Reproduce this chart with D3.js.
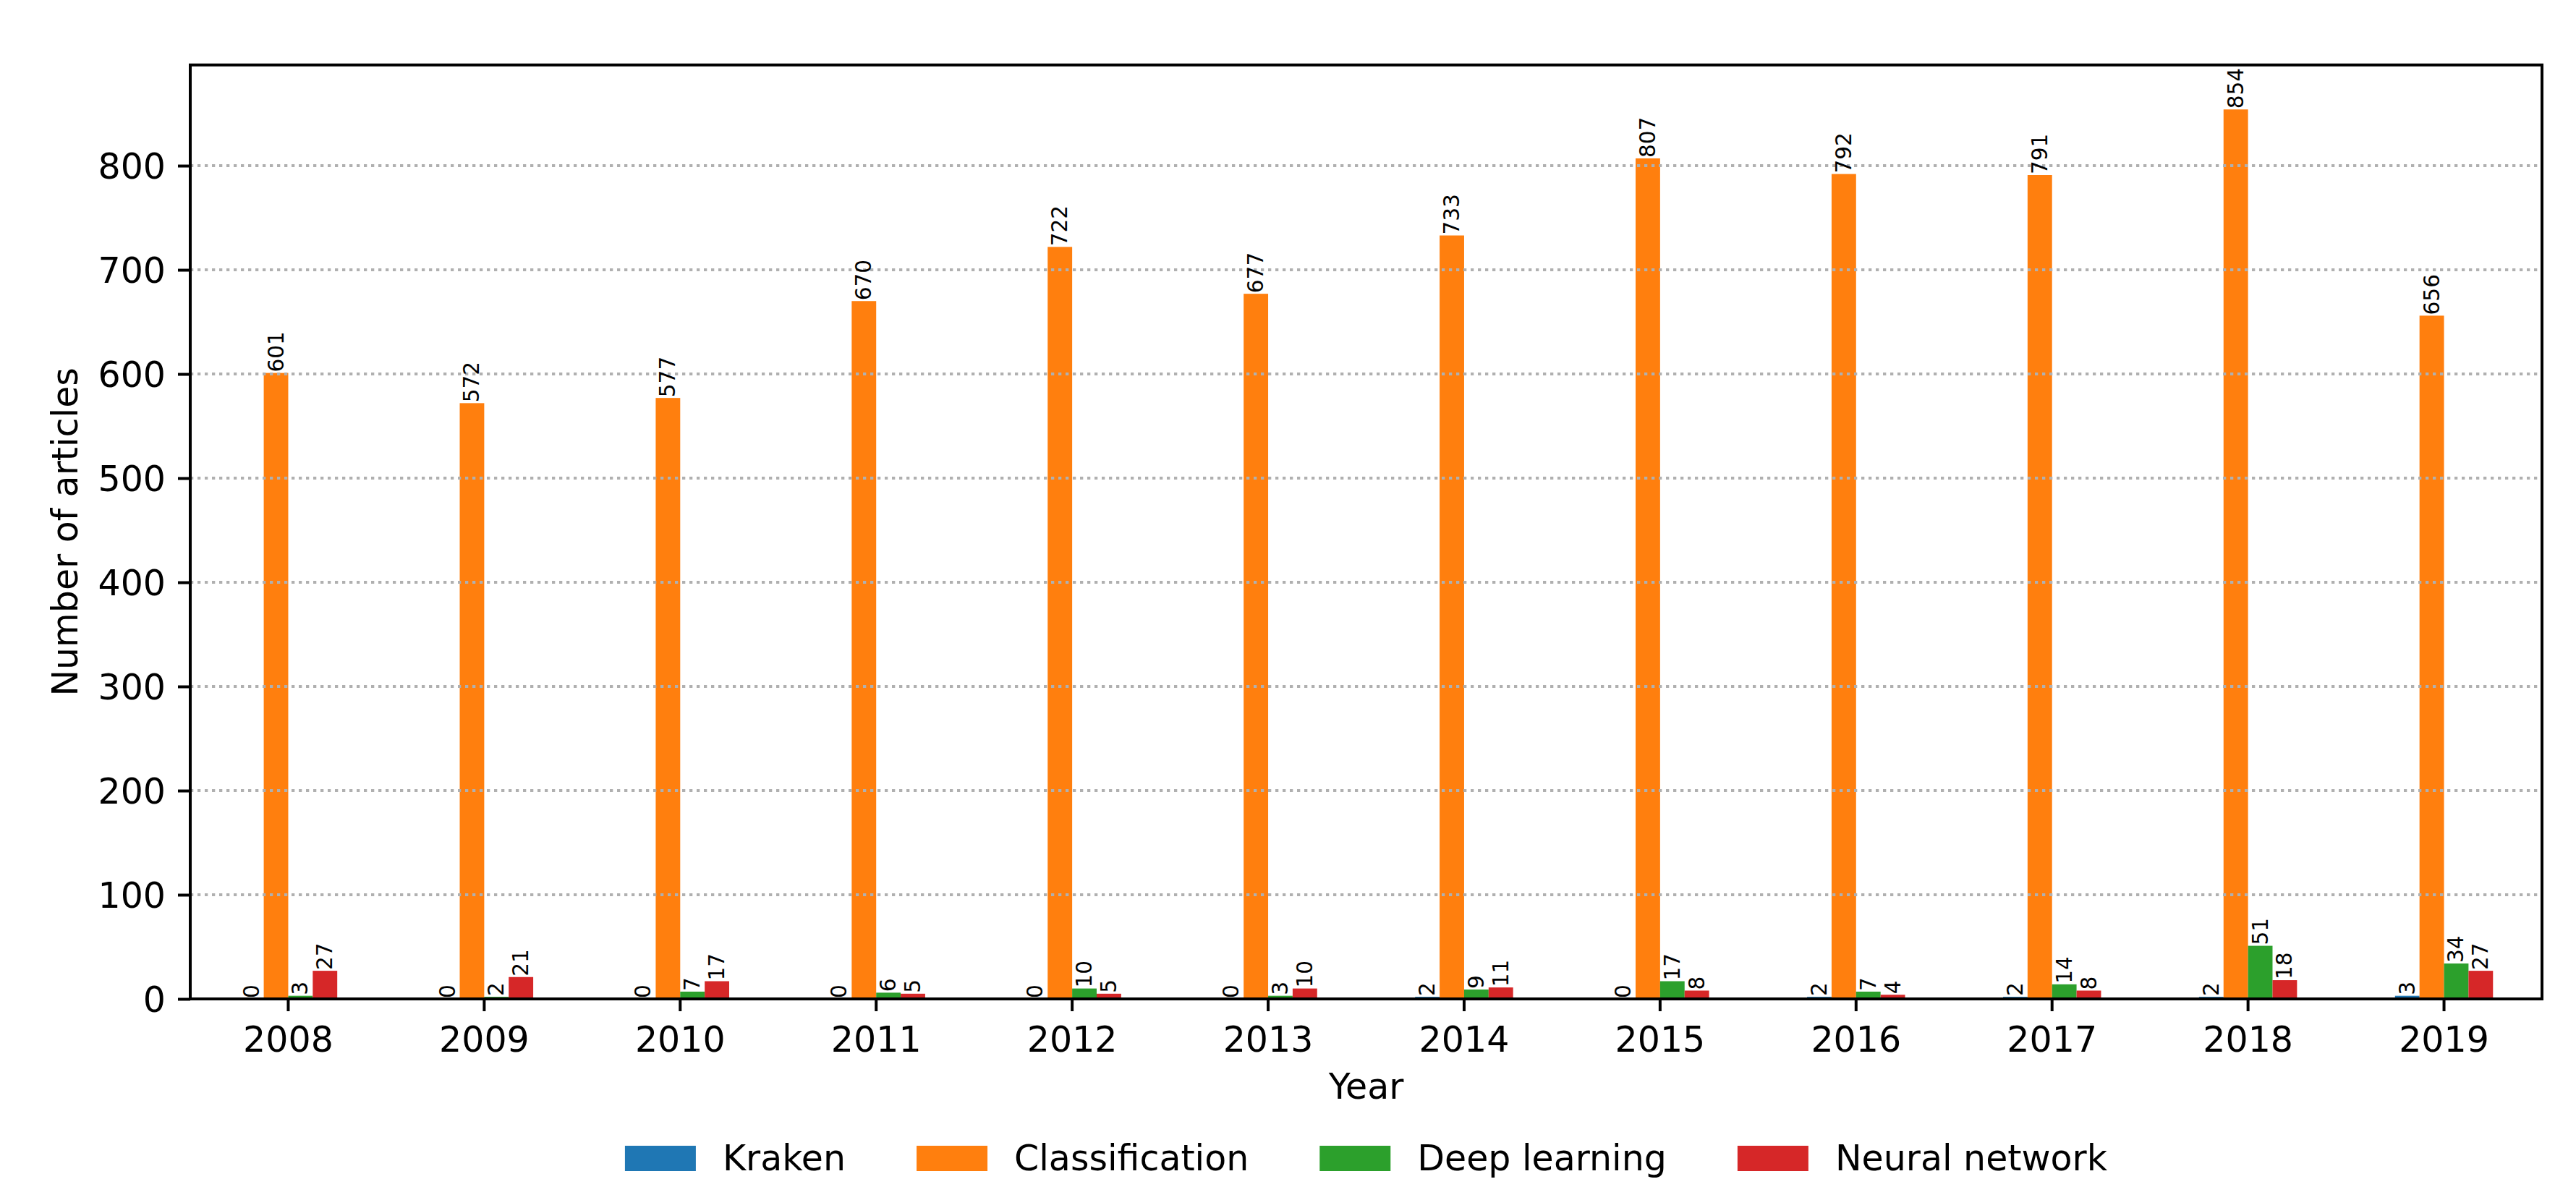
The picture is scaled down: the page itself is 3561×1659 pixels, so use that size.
<!DOCTYPE html>
<html>
<head>
<meta charset="utf-8">
<script src="https://cdn.jsdelivr.net/npm/d3@7"></script>
<style>
  html, body { margin: 0; padding: 0; background: #fff; }
  svg { display: block; }
  text { font-family: "DejaVu Sans", sans-serif; fill: #000; }
</style>
</head>
<body>
<svg id="chart" width="3561" height="1659"></svg>
<script>
// ---- data ----
const years = ["2008","2009","2010","2011","2012","2013","2014","2015","2016","2017","2018","2019"];
const seriesNames = ["Kraken","Classification","Deep learning","Neural network"];
const kraken         = [0, 0, 0, 0, 0, 0, 2, 0, 2, 2, 2, 3];
const classification = [601, 572, 577, 670, 722, 677, 733, 807, 792, 791, 854, 656];
const deepLearning   = [3, 2, 7, 6, 10, 3, 9, 17, 7, 14, 51, 34];
const neuralNetwork  = [27, 21, 17, 5, 5, 10, 11, 8, 4, 8, 18, 27];
const yTicks = [0, 100, 200, 300, 400, 500, 600, 700, 800];
const colors = ["#1f77b4", "#ff7f0e", "#2ca02c", "#d62728"];

const seriesValues = [kraken, classification, deepLearning, neuralNetwork];

// ---- layout ----
const W = 3561, H = 1659;
const L = 263, R = 3514, T = 89.8, B = 1381;
const svg = d3.select("#chart");
const FS = 49;

const yMax = d3.max(classification) * 1.05;
const x = d3.scaleBand().domain(years).range([L, R]).padding(0);
const bw = x.bandwidth();
const xs = d3.scaleBand().domain(seriesNames).range([0.25 * bw, 0.75 * bw]).padding(0);
const y = d3.scaleLinear().domain([0, yMax]).range([B, T]);

const lw = 4;

// bars
const barData = [];
seriesNames.forEach((s, i) => {
  years.forEach((yr, j) => {
    barData.push({ s, i, yr, v: seriesValues[i][j] });
  });
});

svg.append("g").selectAll("rect").data(barData).join("rect")
  .attr("x", d => x(d.yr) + xs(d.s))
  .attr("width", xs.bandwidth())
  .attr("y", d => y(d.v))
  .attr("height", d => y(0) - y(d.v))
  .attr("fill", d => colors[d.i]);

// grid (above bars, as matplotlib default)
svg.append("g").selectAll("line").data(yTicks.filter(t => t > 0)).join("line")
  .attr("x1", L).attr("x2", R)
  .attr("y1", d => y(d)).attr("y2", d => y(d))
  .attr("stroke", "#b0b0b0").attr("stroke-width", lw)
  .attr("stroke-dasharray", "4.3,5.7");

// value labels
svg.append("g").selectAll("text").data(barData).join("text")
  .attr("transform", d => `translate(${x(d.yr) + xs(d.s) + xs.bandwidth() / 2 + 10},${y(d.v) - 1}) rotate(-90)`)
  .attr("text-anchor", "start")
  .attr("font-size", 29.5)
  .text(d => d.v);

// y axis
const yAxis = d3.axisLeft(y).tickValues(yTicks).tickSize(17).tickPadding(17).tickFormat(d3.format("d"));
const gy = svg.append("g").attr("transform", `translate(${L},0)`).call(yAxis);
gy.select(".domain").remove();
gy.selectAll(".tick line").attr("stroke", "#000").attr("stroke-width", lw);
gy.selectAll(".tick text").attr("font-size", FS).attr("font-family", "DejaVu Sans").attr("dy", "0.36em");

// x axis
const xAxis = d3.axisBottom(x).tickSize(17).tickPadding(17);
const gx = svg.append("g").attr("transform", `translate(0,${B})`).call(xAxis);
gx.select(".domain").remove();
gx.selectAll(".tick line").attr("stroke", "#000").attr("stroke-width", lw);
gx.selectAll(".tick text").attr("font-size", FS).attr("font-family", "DejaVu Sans").attr("dy", null).attr("y", 73);

// frame
svg.append("rect")
  .attr("x", L).attr("y", T).attr("width", R - L).attr("height", B - T)
  .attr("fill", "none").attr("stroke", "#000").attr("stroke-width", lw);

// axis titles
svg.append("text")
  .attr("transform", `translate(107,${(T + B) / 2}) rotate(-90)`)
  .attr("text-anchor", "middle").attr("font-size", FS)
  .text("Number of articles");

svg.append("text")
  .attr("x", (L + R) / 2).attr("y", 1519)
  .attr("text-anchor", "middle").attr("font-size", FS)
  .text("Year");

// legend
const handleW = 98, handleH = 35, handlePad = 37, colSpace = 98;
const lg = svg.append("g");
const items = seriesNames.map((s, i) => {
  const g = lg.append("g");
  g.append("rect").attr("x", 0).attr("y", 1584).attr("width", handleW).attr("height", handleH).attr("fill", colors[i]);
  const t = g.append("text").attr("x", handleW + handlePad).attr("y", 1618).attr("font-size", FS).text(s);
  const w = handleW + handlePad + t.node().getComputedTextLength();
  return { g, w };
});
const totalW = d3.sum(items, d => d.w) + colSpace * (items.length - 1);
let cx = (L + R) / 2 - totalW / 2;
items.forEach(it => {
  it.g.attr("transform", `translate(${cx},0)`);
  cx += it.w + colSpace;
});
</script>
</body>
</html>
